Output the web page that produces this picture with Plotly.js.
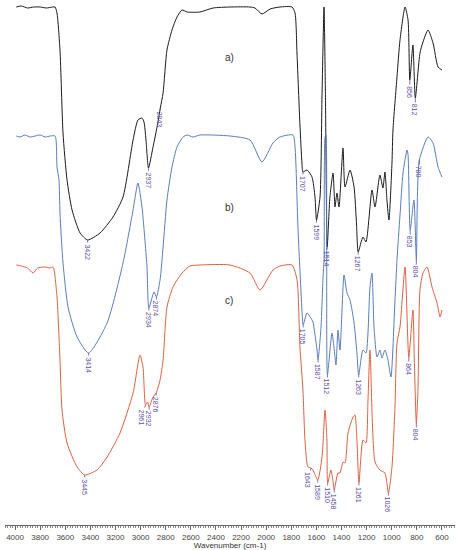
<!DOCTYPE html>
<html>
<head>
<meta charset="utf-8">
<script src="https://cdn.plot.ly/plotly-3.0.1.min.js"></script>
<style>
  html, body { margin: 0; padding: 0; background: #fff; }
  #plot { width: 462px; height: 550px; }
</style>
</head>
<body>
<div id="plot"></div>
<script>
// Spectrum a) - wavenumber (cm-1) and offset transmittance (a.u.)
const waveA = [3990, 3950, 3900, 3850, 3800, 3750, 3700, 3681, 3666, 3642, 3618, 3586, 3546, 3482, 3422, 3323, 3220, 3140, 3060, 3021, 2989, 2973, 2957, 2937, 2901, 2869, 2843, 2821, 2790, 2750, 2710, 2670, 2630, 2527, 2423, 2288, 2129, 2089, 2033, 1969, 1890, 1794, 1770, 1754, 1731, 1715, 1707, 1675, 1635, 1611, 1599, 1571, 1555, 1539, 1527, 1514, 1492, 1467, 1452, 1436, 1420, 1388, 1372, 1332, 1300, 1280, 1267, 1229, 1205, 1157, 1133, 1094, 1070, 1054, 1038, 1022, 998, 990, 958, 934, 894, 870, 856, 831, 812, 775, 751, 711, 671, 631, 600];
const valueA = [518, 519, 517, 518, 518, 517, 518, 518, 512, 475, 392, 345, 315, 292, 285, 292, 308, 328, 385, 405, 407, 403, 385, 357, 378, 398, 417, 432, 475, 495, 508, 515, 513, 513, 517, 518, 518, 517, 511, 516, 518, 518, 512, 470, 400, 362, 353, 355, 348, 328, 305, 328, 430, 518, 420, 278, 328, 352, 318, 332, 318, 377, 338, 355, 338, 300, 273, 288, 283, 335, 318, 350, 337, 353, 325, 305, 362, 395, 448, 485, 518, 505, 445, 480, 427, 472, 483, 495, 482, 458, 455];

// Spectrum b)
const waveB = [3990, 3960, 3920, 3880, 3840, 3800, 3760, 3720, 3681, 3666, 3650, 3642, 3618, 3578, 3506, 3414, 3267, 3140, 3060, 3021, 2989, 2981, 2949, 2934, 2893, 2874, 2845, 2821, 2790, 2750, 2710, 2662, 2630, 2583, 2527, 2288, 2129, 2033, 1946, 1890, 1786, 1770, 1746, 1731, 1715, 1705, 1675, 1635, 1627, 1595, 1587, 1563, 1547, 1539, 1531, 1524, 1518, 1512, 1476, 1460, 1444, 1428, 1412, 1380, 1356, 1332, 1300, 1277, 1263, 1229, 1205, 1173, 1157, 1141, 1117, 1094, 1078, 1054, 1030, 1006, 974, 958, 934, 910, 878, 870, 853, 823, 804, 795, 780, 711, 671, 631, 600];
const valueB = [389, 388, 390, 388, 389, 390, 388, 389, 389, 358, 345, 312, 262, 218, 188, 172, 202, 262, 315, 342, 318, 308, 258, 217, 233, 228, 245, 278, 325, 358, 378, 388, 390, 388, 390, 389, 385, 363, 382, 388, 390, 378, 295, 255, 215, 200, 212, 205, 203, 175, 165, 198, 248, 265, 388, 390, 280, 150, 192, 178, 160, 195, 175, 250, 232, 225, 202, 172, 150, 175, 172, 238, 252, 198, 168, 175, 167, 175, 165, 148, 225, 265, 310, 352, 375, 370, 295, 325, 265, 330, 365, 388, 382, 358, 348];

// Spectrum c)
const waveC = [3990, 3950, 3900, 3857, 3820, 3760, 3720, 3697, 3666, 3642, 3626, 3586, 3506, 3445, 3347, 3267, 3164, 3060, 3005, 2981, 2961, 2945, 2932, 2901, 2876, 2845, 2821, 2790, 2742, 2670, 2607, 2527, 2288, 2129, 2049, 1946, 1890, 1794, 1754, 1731, 1707, 1691, 1667, 1643, 1627, 1589, 1555, 1531, 1516, 1510, 1484, 1467, 1458, 1428, 1412, 1388, 1372, 1348, 1308, 1293, 1277, 1261, 1229, 1205, 1189, 1173, 1133, 1094, 1054, 1026, 998, 974, 958, 934, 894, 864, 831, 820, 804, 791, 775, 751, 719, 679, 639, 615, 600];
const valueC = [260, 259, 257, 252, 257, 258, 257, 258, 228, 165, 115, 82, 58, 50, 55, 68, 92, 132, 170, 158, 120, 123, 118, 128, 132, 145, 165, 218, 238, 252, 259, 260, 260, 252, 235, 255, 259, 260, 245, 178, 135, 85, 58, 57, 55, 45, 68, 115, 85, 42, 55, 43, 35, 52, 52, 63, 62, 92, 108, 110, 85, 42, 85, 82, 125, 175, 63, 55, 52, 32, 58, 118, 182, 198, 258, 168, 215, 165, 102, 135, 235, 252, 258, 238, 222, 208, 215];

// Peak labels for each spectrum
const peaksA = [3422, 2937, 2843, 1707, 1599, 1514, 1267, 856, 812];
const peaksB = [3414, 2934, 2874, 1705, 1587, 1512, 1263, 853, 804, 780];
const peaksC = [3445, 2961, 2932, 2876, 1643, 1589, 1510, 1458, 1261, 1026, 864, 804];

const curveNames = ['a)', 'b)', 'c)'];
const curveLabelY = [468, 318, 225];

const labelColor = '#5b4fa8';

// find the y value of a labelled peak in its own series
function valueAt(waves, values, w) {
    const i = waves.indexOf(w);
    return values[i];
}

function peakAnnotations(waves, values, peaks, shifts) {
    return peaks.map(w => {
        const s = shifts[w] || 0;
        return {
            x: w,
            y: valueAt(waves, values, w),
            text: String(w),
            textangle: 90,
            showarrow: true,
            arrowhead: 0,
            arrowwidth: 0.8,
            arrowcolor: labelColor,
            ax: s,
            ay: 12,
            font: { family: 'Liberation Sans, Arial', size: 7, color: labelColor }
        };
    });
}

const traces = [
    { x: waveA, y: valueA, color: '#1b1b1b' },
    { x: waveB, y: valueB, color: '#5a7dbd' },
    { x: waveC, y: valueC, color: '#e2603f' }
].map(t => ({
    x: t.x,
    y: t.y,
    mode: 'lines',
    type: 'scatter',
    line: { color: t.color, width: 1, shape: 'spline', smoothing: 0.6 },
    hoverinfo: 'skip'
}));

let annotations = []
    .concat(peakAnnotations(waveA, valueA, peaksA, {}))
    .concat(peakAnnotations(waveB, valueB, peaksB, {}))
    .concat(peakAnnotations(waveC, valueC, peaksC, { 2961: -4, 1643: -3 }));

curveNames.forEach((name, i) => {
    annotations.push({
        x: 2296,
        y: curveLabelY[i],
        text: name,
        showarrow: false,
        font: { family: 'Liberation Sans, Arial', size: 10, color: '#333' }
    });
});

Plotly.newPlot('plot', traces, {
    width: 462,
    height: 550,
    margin: { l: 5, r: 7, t: 0, b: 25 },
    paper_bgcolor: '#fff',
    plot_bgcolor: '#fff',
    showlegend: false,
    xaxis: {
        range: [4080, 496],
        showgrid: false,
        zeroline: false,
        showline: true,
        linecolor: '#666',
        linewidth: 1,
        ticks: 'outside',
        ticklen: 4,
        tickcolor: '#666',
        tick0: 0,
        dtick: 200,
        minor: { dtick: 20, ticks: 'outside', ticklen: 2, tickcolor: '#888' },
        tickfont: { family: 'Liberation Sans, Arial', size: 8, color: '#444' },
        title: { text: 'Wavenumber (cm-1)', standoff: 2, font: { family: 'Liberation Sans, Arial', size: 8, color: '#333' } }
    },
    yaxis: { visible: false, range: [0, 525], fixedrange: true },
    annotations: annotations
}, { staticPlot: true });
</script>
</body>
</html>
